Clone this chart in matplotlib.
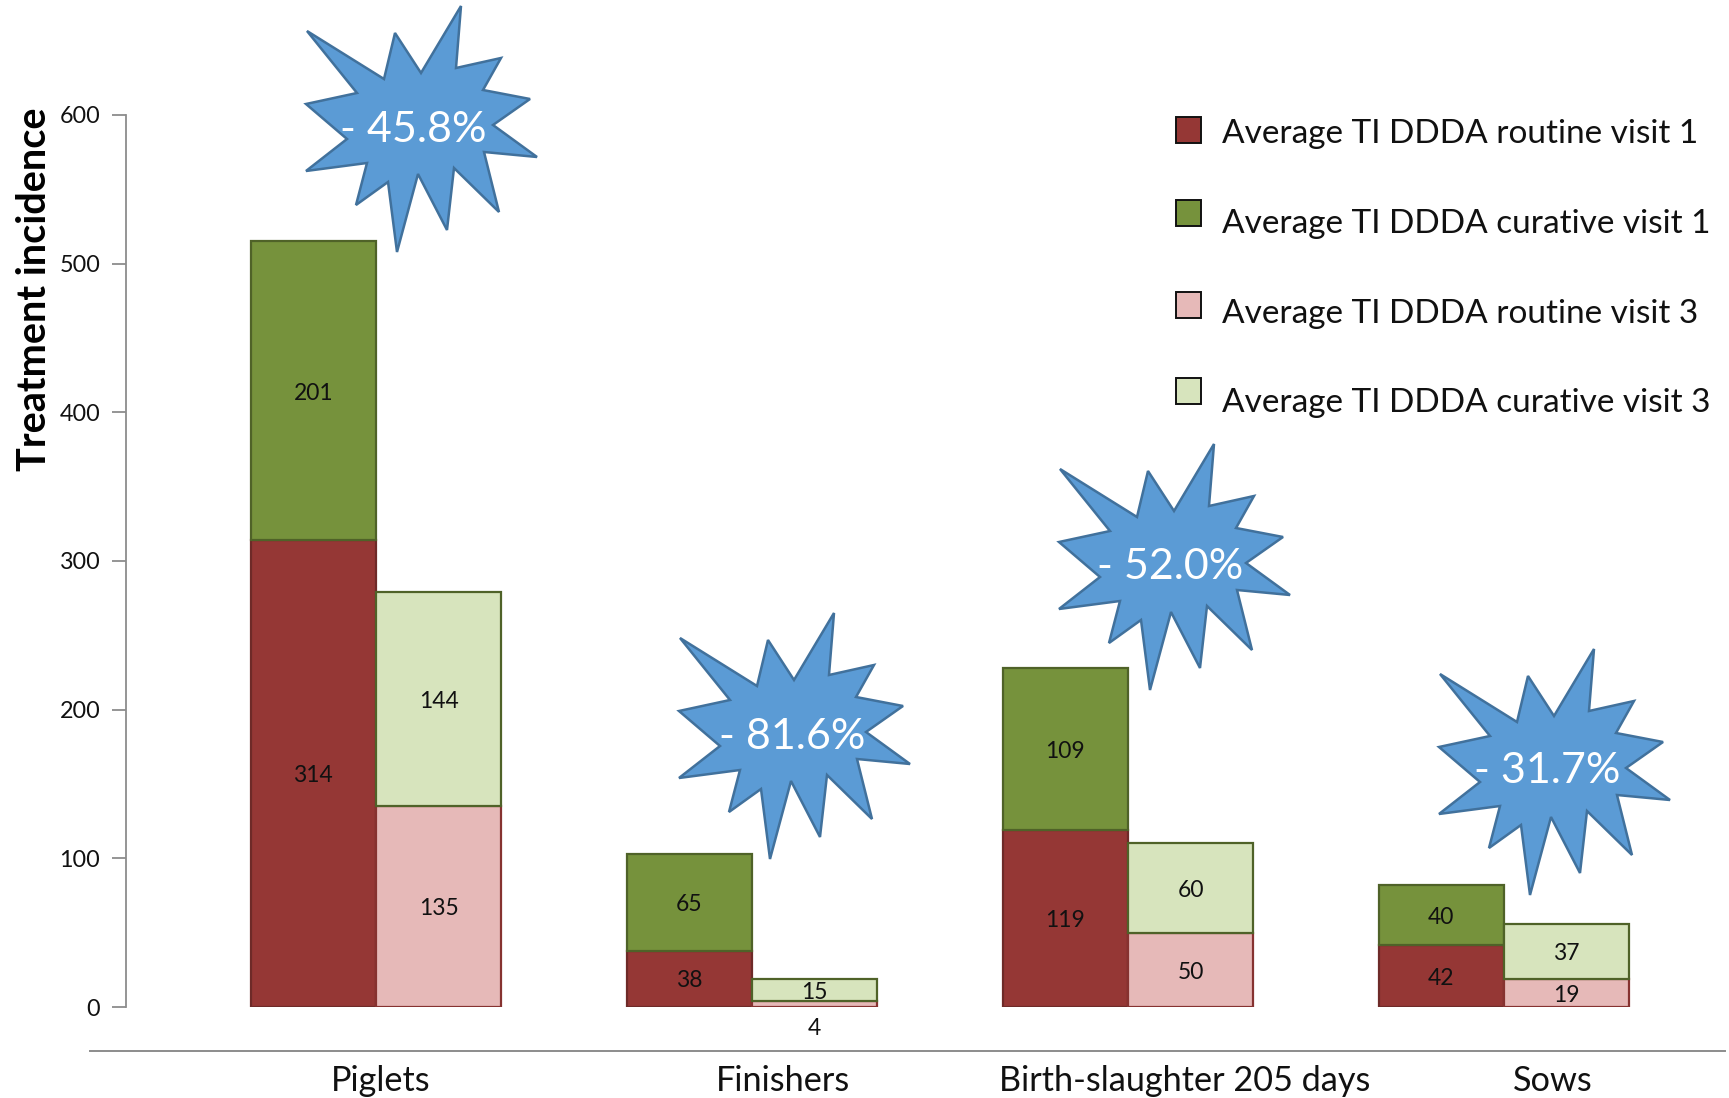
import matplotlib
matplotlib.use("Agg")
import matplotlib.pyplot as plt
from matplotlib.lines import Line2D
from matplotlib.patches import Polygon, Rectangle
from matplotlib.transforms import Affine2D

plt.rcParams["font.family"] = ["Lato", "DejaVu Sans"]

# Treatment incidence per production stage
categories = ["Piglets", "Finishers", "Birth-slaughter 205 days", "Sows"]
routine_visit1 = [314, 38, 119, 42]
curative_visit1 = [201, 65, 109, 40]
routine_visit3 = [135, 4, 50, 19]
curative_visit3 = [144, 15, 60, 37]
reductions = ["- 45.8%", "- 81.6%", "- 52.0%", "- 31.7%"]
y_ticks = [0, 100, 200, 300, 400, 500, 600]
legend_labels = [
    "Average TI DDDA routine visit 1",
    "Average TI DDDA curative visit 1",
    "Average TI DDDA routine visit 3",
    "Average TI DDDA curative visit 3",
]

W, H = 1729, 1098
RED, RED_EDGE = "#953735", "#6E2A28"
GREEN, GREEN_EDGE = "#76923C", "#4F6228"
PINK, PINK_EDGE = "#E6B9B8", "#863230"
PALE, PALE_EDGE = "#D7E4BD", "#4F6228"
TEXT = "#111111"

fig = plt.figure(figsize=(W / 100, H / 100), dpi=100, facecolor="white")

# Pixel-based transform for the annotations laid out on the page
page = Affine2D().scale(1 / W, -1 / H).translate(0, 1) + fig.transFigure

ax = fig.add_axes([126 / W, 1 - 1007 / H, (W - 126) / W, (1007 - 115) / H])
ax.set_ylim(0, 600)
ax.set_xlim(-250 / 376, (W - 376) / 376)
ax.patch.set_alpha(0)

bar_w = 1 / 3
x = range(len(categories))
NUDGE = -1.5  # optical centring of the numbers within their segments


def stacked(offset, lower, upper, lower_style, upper_style):
    xs = [i + offset for i in x]
    ax.bar(xs, lower, bar_w, color=lower_style[0], edgecolor=lower_style[1], linewidth=1.6)
    ax.bar(xs, upper, bar_w, bottom=lower, color=upper_style[0], edgecolor=upper_style[1], linewidth=1.6)
    for px, lo, up in zip(xs, lower, upper):
        # A segment too thin to hold its number gets it underneath the bar
        lo_y = lo / 2 if lo >= 10 else -13
        ax.text(px, lo_y + NUDGE, str(lo), ha="center", va="center", fontsize=16.5, color=TEXT, clip_on=False)
        ax.text(px, lo + up / 2 + NUDGE, str(up), ha="center", va="center", fontsize=16.5, color=TEXT)


stacked(-bar_w / 2, routine_visit1, curative_visit1, (RED, RED_EDGE), (GREEN, GREEN_EDGE))
stacked(bar_w / 2, routine_visit3, curative_visit3, (PINK, PINK_EDGE), (PALE, PALE_EDGE))

for side in ("top", "right", "bottom"):
    ax.spines[side].set_visible(False)
ax.spines["left"].set_color("#8C8C8C")
ax.spines["left"].set_linewidth(1.3)
ax.spines["left"].set_bounds(0, 600)
ax.set_yticks(y_ticks)
ax.tick_params(axis="y", length=10, width=1.3, color="#8C8C8C", pad=8.5, labelsize=16.8, labelcolor=TEXT)

# Category names sit slightly right of their bar groups
label_shift = [0.012, 0.083, 0.152, 0.13]
ax.set_xticks([i + s for i, s in zip(x, label_shift)])
ax.set_xticklabels(categories)
ax.tick_params(axis="x", length=0, pad=42, labelsize=24.7, labelcolor=TEXT)

fig.text(35 / W, 1 - 289 / H, "Treatment incidence", rotation=90, ha="center", va="center",
         fontsize=28.5, fontweight="bold", color="black")

# Rule under the plot area
fig.add_artist(Line2D([90, 1725], [1051, 1051], color="#8C8C8C", lw=1.4, transform=page))

# Burst outline relative to its own centre, in pixels
burst = [
    (-113, -95), (-36, -47), (-25, -93), (1, -53), (41, -120), (36, -58), (81, -68), (63, -36),
    (110, -27), (73, -1), (117, 31), (64, 26), (79, 86), (34, 42), (27, 104), (-2, 48),
    (-23, 126), (-32, 56), (-64, 79), (-53, 37), (-114, 45), (-73, 13), (-114, -22), (-63, -33),
]
burst_centres = [(420, 126), (793, 733), (1173, 564), (1553, 769)]
text_centres = [(413, 130), (792, 737), (1170, 567), (1547, 771)]
for (cx, cy), (tx, ty), label in zip(burst_centres, text_centres, reductions):
    fig.add_artist(Polygon([(cx + a, cy + b) for a, b in burst], closed=True, facecolor="#5B9BD5",
                           edgecolor="#41719C", linewidth=1.8, joinstyle="miter", transform=page))
    fig.text(tx / W, 1 - ty / H, label, ha="center", va="center", fontsize=31, color="white", zorder=5)

# Legend entries
swatches = [(RED, 130), (GREEN, 213), (PINK, 305), (PALE, 391)]
text_rows = [134, 224, 314, 403]
for (colour, sy), ty, label in zip(swatches, text_rows, legend_labels):
    fig.add_artist(Rectangle((1176, sy - 13), 25, 26, facecolor=colour, edgecolor="#111111",
                             linewidth=1.4, transform=page))
    fig.text(1222 / W, 1 - ty / H, label, ha="left", va="center", fontsize=24, color=TEXT)

fig.savefig("out.png", dpi=100)
